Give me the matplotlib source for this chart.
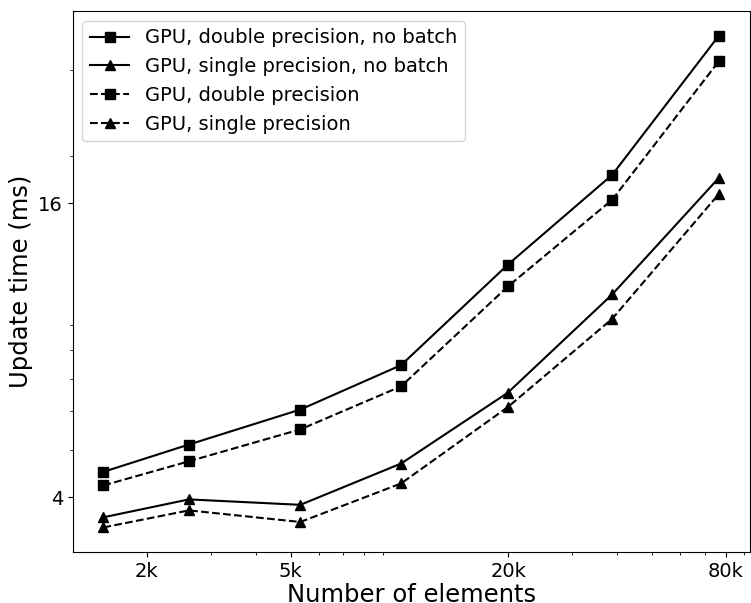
import matplotlib
matplotlib.use("Agg")
import matplotlib.pyplot as plt
from matplotlib.ticker import NullFormatter

# number of mesh elements
elements = [1516, 2614, 5318, 10110, 19960, 38820, 76680]

# update time (ms)
double_nobatch = [4.51, 5.13, 6.05, 7.46, 11.98, 18.3, 35.3]
single_nobatch = [3.64, 3.96, 3.86, 4.69, 6.55, 10.41, 18.05]
double_batch = [4.23, 4.74, 5.51, 6.75, 10.81, 16.27, 31.3]
single_batch = [3.47, 3.76, 3.56, 4.27, 6.12, 9.28, 16.73]

xticks = [2000, 5000, 20000, 80000]
xticklabels = ["2k", "5k", "20k", "80k"]
yticks = [4, 16]
yticklabels = ["4", "16"]

fig = plt.figure(figsize=(7.51, 6.03), dpi=100)
ax = fig.add_axes([72.7 / 751, 51 / 603, 677 / 751, 541 / 603])

ax.plot(elements, double_nobatch, "k-", marker="s", ms=6.5, lw=1.5,
        label="GPU, double precision, no batch")
ax.plot(elements, single_nobatch, "k-", marker="^", ms=6.5, lw=1.5,
        label="GPU, single precision, no batch")
ax.plot(elements, double_batch, "k--", marker="s", ms=6.5, lw=1.5,
        label="GPU, double precision")
ax.plot(elements, single_batch, "k--", marker="^", ms=6.5, lw=1.5,
        label="GPU, single precision")

ax.set_xscale("log")
ax.set_yscale("log")
ax.set_xticks(xticks)
ax.set_xticklabels(xticklabels)
ax.set_yticks(yticks)
ax.set_yticklabels(yticklabels)
ax.xaxis.set_minor_formatter(NullFormatter())
ax.yaxis.set_minor_formatter(NullFormatter())
ax.tick_params(labelsize=14)

ax.set_xlabel("Number of elements", fontsize=17.5, labelpad=2)
ax.set_ylabel("Update time (ms)", fontsize=17.5)

ax.legend(loc="upper left", fontsize=14)

fig.savefig("out.png", dpi=100)
